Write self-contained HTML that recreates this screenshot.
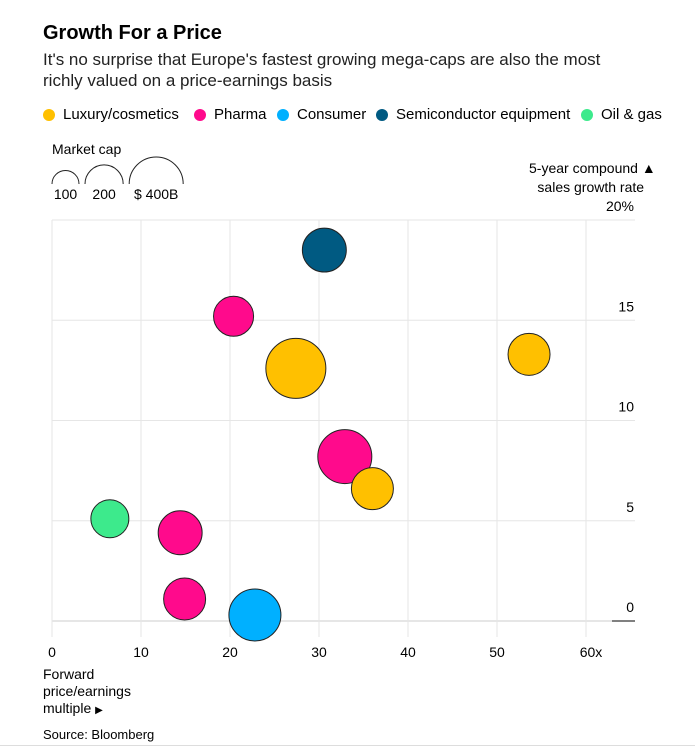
<!DOCTYPE html>
<html><head><meta charset="utf-8"><style>
body{margin:0;background:#fff;font-family:"Liberation Sans",sans-serif;color:#000;}
#wrap{position:relative;width:695px;height:750px;overflow:hidden;}
.t{position:absolute;white-space:nowrap;}
.leg{position:absolute;top:106px;font-size:15px;display:flex;align-items:center;}
.dot{width:12px;height:12px;border-radius:50%;display:inline-block;margin-right:8px;}
</style></head><body>
<div id="wrap">
<div class="t" style="left:43px;top:22px;font-size:20px;font-weight:bold">Growth For a Price</div>
<div class="t" style="left:43px;top:49px;font-size:17px;line-height:21px;color:#222">It's no surprise that Europe's fastest growing mega-caps are also the most<br>richly valued on a price-earnings basis</div>
<div class="leg" style="left:43px"><span class="dot" style="background:#ffc000"></span>Luxury/cosmetics</div>
<div class="leg" style="left:194px"><span class="dot" style="background:#ff0a8c"></span>Pharma</div>
<div class="leg" style="left:277px"><span class="dot" style="background:#00b0ff"></span>Consumer</div>
<div class="leg" style="left:376px"><span class="dot" style="background:#005a82"></span>Semiconductor equipment</div>
<div class="leg" style="left:581px"><span class="dot" style="background:#3dea8c"></span>Oil &amp; gas</div>
<div class="t" style="left:52px;top:141px;font-size:14px">Market cap</div>
<div class="t" style="left:529px;top:159px;font-size:14px;line-height:19px;text-align:right">5-year compound ▲<br>sales growth rate&nbsp;&nbsp;&nbsp;</div>
<div class="t" style="left:43px;top:666px;font-size:14px;line-height:17px">Forward<br>price/earnings<br>multiple <span style="font-size:10px">▶</span></div>
<div class="t" style="left:43px;top:727px;font-size:13px">Source: Bloomberg</div>
<div style="position:absolute;left:0;top:745px;width:695px;height:1px;background:#ddd"></div>
<svg id="svg" width="695" height="750" style="position:absolute;left:0;top:0"></svg>
</div>
<script>
const xTicks=[0,10,20,30,40,50,60];
const yTicks=[0,5,10,15,20];
const sizeLegend=[100,200,400];
const names=["ASML","Novo Nordisk","L'Oreal","LVMH","AstraZeneca","Hermes","Shell","Roche","Novartis","Nestle"];
const sectors=["semi","pharma","luxury","luxury","pharma","luxury","oil","pharma","pharma","consumer"];
const pe=[30.6,20.4,27.4,53.6,32.9,36.0,6.5,14.4,14.9,22.8];
const growth=[18.5,15.2,12.6,13.3,8.2,6.6,5.1,4.4,1.1,0.3];
const caps=[265,220,494,242,400,242,198,265,242,371];
const colors={luxury:"#ffc000",pharma:"#ff0a8c",consumer:"#00b0ff",semi:"#005a82",oil:"#3dea8c"};
const NS="http://www.w3.org/2000/svg";
const svg=document.getElementById('svg');
const X=v=>52+v*8.9;
const Y=v=>621-v*20.05;
const R=c=>13.5*Math.sqrt(c/100);
function mk(t,a){const e=document.createElementNS(NS,t);for(const k in a)e.setAttribute(k,a[k]);svg.appendChild(e);return e;}
yTicks.forEach(v=>{
 const l=mk('line',{x1:52,x2:v===0?612:635,y1:Y(v),y2:Y(v),stroke:'#e6e6e6','stroke-width':v===0?2:1});
 
 
 const t=mk('text',{x:634,y:Y(v)-9,'text-anchor':'end','font-size':14,'font-family':'Liberation Sans, sans-serif'});
 t.textContent=v===20?'20%':String(v);
 
 
});
const zl=mk('line',{x1:612,x2:635,y1:Y(0),y2:Y(0),stroke:'#000','stroke-width':1});


xTicks.forEach(v=>{
 const l=mk('line',{x1:X(v),x2:X(v),y1:Y(20),y2:637,stroke:'#e6e6e6','stroke-width':1});
 
 
 const t=mk('text',{x:X(v)+(v===60?5:0),y:657,'text-anchor':'middle','font-size':14,'font-family':'Liberation Sans, sans-serif'});
 t.textContent=v===60?'60x':String(v);
 
 
});
pe.forEach((v,i)=>{
 const c=mk('circle',{cx:X(v),cy:Y(growth[i]),r:R(caps[i]),fill:colors[sectors[i]],stroke:'#222','stroke-width':1});
 
 
});
let sx=52;
sizeLegend.forEach((c,i)=>{
 const r=R(c);
 const p=mk('path',{d:`M${sx} 184 A${r} ${r} 0 0 1 ${sx+2*r} 184`,fill:'none',stroke:'#222','stroke-width':1});
 
 
 const t=mk('text',{x:sx+r,y:199,'text-anchor':'middle','font-size':14,'font-family':'Liberation Sans, sans-serif'});
 t.textContent=i===2?'$ 400B':String(c);
 
 
 sx+=2*r+6;
});
</script>
</body></html>
